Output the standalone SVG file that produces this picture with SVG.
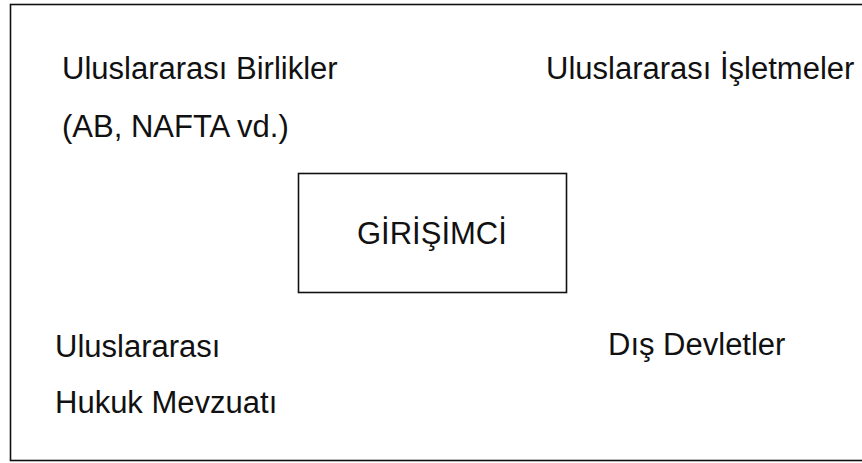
<svg xmlns="http://www.w3.org/2000/svg" width="862" height="463" viewBox="0 0 862 463">
<style>
.t{font-family:"Liberation Sans",Arial,sans-serif;font-size:31px;fill:#111}
.b{fill:none;stroke:#111;stroke-width:1.6}
</style>
<rect width="862" height="463" fill="#fff"/>
<g id="frame"><rect class="b" x="10.5" y="4.5" width="870" height="456"/></g>
<g id="connectors"></g>
<g id="node-girisimci">
<rect class="b" x="298.5" y="173.5" width="268" height="119"/>
<text class="t" x="357" y="244">GİRİŞİMCİ</text>
</g>
<g id="node-birlikler">
<text class="t" x="62" y="79">Uluslararası Birlikler</text>
<text class="t" x="62" y="137">(AB, NAFTA vd.)</text>
</g>
<g id="node-isletmeler">
<text class="t" x="546" y="79">Uluslararası İşletmeler</text>
</g>
<g id="node-hukuk">
<text class="t" x="55" y="357">Uluslararası</text>
<text class="t" x="55" y="413">Hukuk Mevzuatı</text>
</g>
<g id="node-devletler">
<text class="t" x="608" y="355">Dış Devletler</text>
</g>
</svg>
